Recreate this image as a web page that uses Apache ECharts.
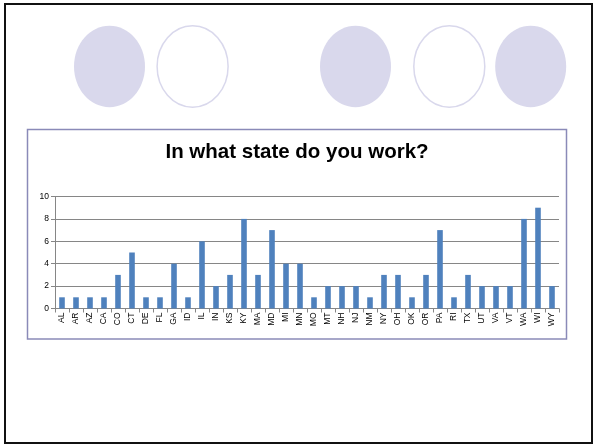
<!DOCTYPE html>
<html>
<head>
<meta charset="utf-8">
<script src="https://cdn.jsdelivr.net/npm/echarts@6/dist/echarts.min.js"></script>
<style>html,body{margin:0;padding:0;background:#fff;}#c{width:594px;height:445px;}</style>
</head>
<body>
<div id="c"></div>
<script>
var states = ['AL','AR','AZ','CA','CO','CT','DE','FL','GA','ID','IL','IN','KS','KY','MA','MD','MI','MN','MO','MT','NH','NJ','NM','NY','OH','OK','OR','PA','RI','TX','UT','VA','VT','WA','WI','WY'];
var counts = [1,1,1,1,3,5,1,1,4,1,6,2,3,8,3,7,4,4,1,2,2,2,1,3,3,1,3,7,1,3,2,2,2,8,9,2];
var yTicks = [0,2,4,6,8,10];
var titleText = 'In what state do you work?';

var chart = echarts.init(document.getElementById('c'), null, {renderer:'canvas'});
var circleFill = '#D9D8EC';
function ell(cx, filled){
  return {type:'ellipse', shape:{cx:cx, cy:66.5, rx:35.5, ry:40.7}, z:1,
    style: filled ? {fill:circleFill, stroke:null} : {fill:'#fff', stroke:circleFill, lineWidth:1.5}};
}
chart.setOption({
  animation:false,
  title:{text:titleText, left:'center', top:137, itemGap:0,
    textStyle:{fontFamily:'Liberation Sans, Arial, sans-serif', fontWeight:'bold', fontSize:20.5, color:'#000'}},
  grid:{left:55, top:196.5, right:35, bottom:136.5, containLabel:false},
  xAxis:{type:'category', data:states,
    axisLine:{lineStyle:{color:'#868686', width:1}},
    axisTick:{show:true, alignWithLabel:false, length:4, lineStyle:{color:'#868686'}},
    axisLabel:{rotate:90, interval:0, fontFamily:'Liberation Sans, Arial, sans-serif', fontSize:8.5, color:'#000', margin:4}},
  yAxis:{type:'value', min:0, max:10, interval:2,
    axisLine:{show:true, lineStyle:{color:'#868686'}},
    axisTick:{show:true, length:4, lineStyle:{color:'#868686'}},
    splitLine:{lineStyle:{color:'#868686', width:1}},
    axisLabel:{fontFamily:'Liberation Sans, Arial, sans-serif', fontSize:8.5, color:'#000', margin:6,
      formatter:function(v){return yTicks.indexOf(v)>=0 ? String(v) : '';}}},
  series:[{type:'bar', data:counts, barWidth:'40%', itemStyle:{color:'#4F81BD'}}],
  graphic:[
    {type:'rect', shape:{x:5, y:4, width:587, height:439}, z:0, silent:true,
      style:{fill:'#fff', stroke:'#111', lineWidth:2}},
    {type:'rect', shape:{x:27.5, y:129.5, width:539, height:209.5}, z:0, silent:true,
      style:{fill:null, stroke:'#8A8AB8', lineWidth:1.5}},
    ell(109.5,true), ell(192.6,false), ell(355.5,true), ell(449.3,false), ell(530.7,true)
  ]
});
</script>
</body>
</html>
